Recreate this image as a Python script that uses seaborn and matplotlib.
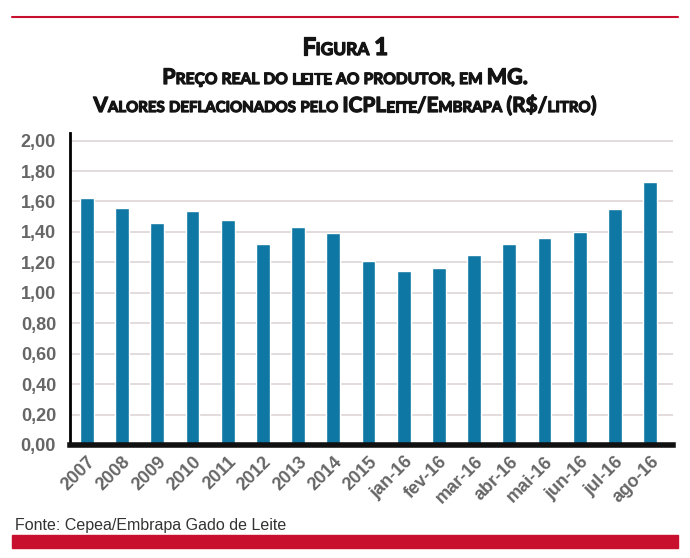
import matplotlib
matplotlib.use('Agg')
import pandas as pd
import seaborn as sns
from matplotlib import pyplot as plt
from matplotlib import patheffects
from matplotlib.patches import Rectangle
from matplotlib.lines import Line2D

periods = ['2007', '2008', '2009', '2010', '2011', '2012', '2013', '2014', '2015',
           'jan-16', 'fev-16', 'mar-16', 'abr-16', 'mai-16', 'jun-16', 'jul-16', 'ago-16']
prices = [1.62, 1.56, 1.46, 1.54, 1.48, 1.32, 1.43, 1.39, 1.21,
          1.14, 1.16, 1.25, 1.32, 1.36, 1.40, 1.55, 1.73]
y_ticks = [0.0, 0.2, 0.4, 0.6, 0.8, 1.0, 1.2, 1.4, 1.6, 1.8, 2.0]

title_lines = ['Figura 1',
               'Preço real do leite ao produtor, em MG.',
               'Valores deflacionados pelo ICPLeite/Embrapa (R$/litro)']
source = 'Fonte: Cepea/Embrapa Gado de Leite'

BAR_COLOR = '#0E77A3'
RED = '#C8102E'
FONT = ['Liberation Sans', 'DejaVu Sans']
TITLE_FONT = ['Lato', 'Liberation Sans', 'DejaVu Sans']

sns.set_style('white')
plt.rcParams['font.family'] = FONT

df = pd.DataFrame({'periodo': periods, 'preco': prices})

fig = plt.figure(figsize=(6.9, 5.58), dpi=100)
ax = fig.add_axes([70 / 690, 1 - 445 / 558, 603 / 690, 312 / 558])
sns.barplot(data=df, x='periodo', y='preco', color=BAR_COLOR, width=0.39,
            saturation=1, ax=ax, zorder=3)

ax.set_xlim(-0.48, 16.65)
ax.set_ylim(0, 2.05)
ax.set_yticks(y_ticks)
ax.set_yticklabels([f'{v:.2f}'.replace('.', ',') for v in y_ticks])
ax.set_xlabel('')
ax.set_ylabel('')
ax.grid(axis='y', color='#DDD6D6', linewidth=1.2, zorder=0)
ax.set_axisbelow(True)

for side in ['top', 'right']:
    ax.spines[side].set_visible(False)
ax.spines['left'].set_linewidth(2)
ax.spines['left'].set_color('black')
ax.spines['bottom'].set_linewidth(4)
ax.spines['bottom'].set_color('#111111')
ax.spines['bottom'].set_zorder(4)

ax.tick_params(axis='y', length=0, pad=10, labelsize=13, labelcolor='#666666')
ax.tick_params(axis='x', length=0, pad=6, labelsize=13, labelcolor='#666666')
for lbl in ax.get_yticklabels() + ax.get_xticklabels():
    lbl.set_fontweight('bold')
for lbl in ax.get_xticklabels():
    lbl.set_rotation(45)
    lbl.set_ha('right')
    lbl.set_rotation_mode('anchor')

# title in small caps, built from pieces
renderer = fig.canvas.get_renderer()
heavy = [patheffects.withStroke(linewidth=0.9, foreground='#141414')]


def small_caps_line(text, baseline_px, big, small):
    y = 1 - baseline_px / 558
    words = text.split(' ')
    items = []
    for wi, word in enumerate(words):
        runs = []
        for ch in word:
            if ch in ',.' and runs:
                cls = runs[-1][0]
            else:
                cls = 'small' if ch.islower() else 'big'
            if runs and runs[-1][0] == cls:
                runs[-1][1] += ch.upper()
            else:
                runs.append([cls, ch.upper()])
        for cls, s in runs:
            t = fig.text(0, y, s, fontsize=big if cls == 'big' else small,
                         fontweight='bold', family=TITLE_FONT, color='#141414',
                         va='baseline', ha='left', parse_math=False,
                         path_effects=heavy)
            items.append((t, t.get_window_extent(renderer).width))
        if wi < len(words) - 1:
            items.append((None, small * 0.27 * 100 / 72))
    total = sum(w for _, w in items)
    x = 345 - total / 2
    for t, w in items:
        if t is not None:
            t.set_x(x / 690)
        x += w


small_caps_line(title_lines[0], 55, 17.5, 12.5)
small_caps_line(title_lines[1], 84, 15.5, 11.2)
small_caps_line(title_lines[2], 112, 15, 10.8)

fig.add_artist(Line2D([12 / 690, 678 / 690], [1 - 17 / 558, 1 - 17 / 558],
                      color=RED, linewidth=1.5, transform=fig.transFigure))
fig.add_artist(Rectangle((12 / 690, 1 - 548 / 558), 666 / 690, 13 / 558,
                         color=RED, transform=fig.transFigure))
fig.text(15 / 690, 1 - 530 / 558, source, fontsize=11.5, family=FONT,
         color='#333333', va='baseline', ha='left')

fig.savefig('out.png', dpi=100)
